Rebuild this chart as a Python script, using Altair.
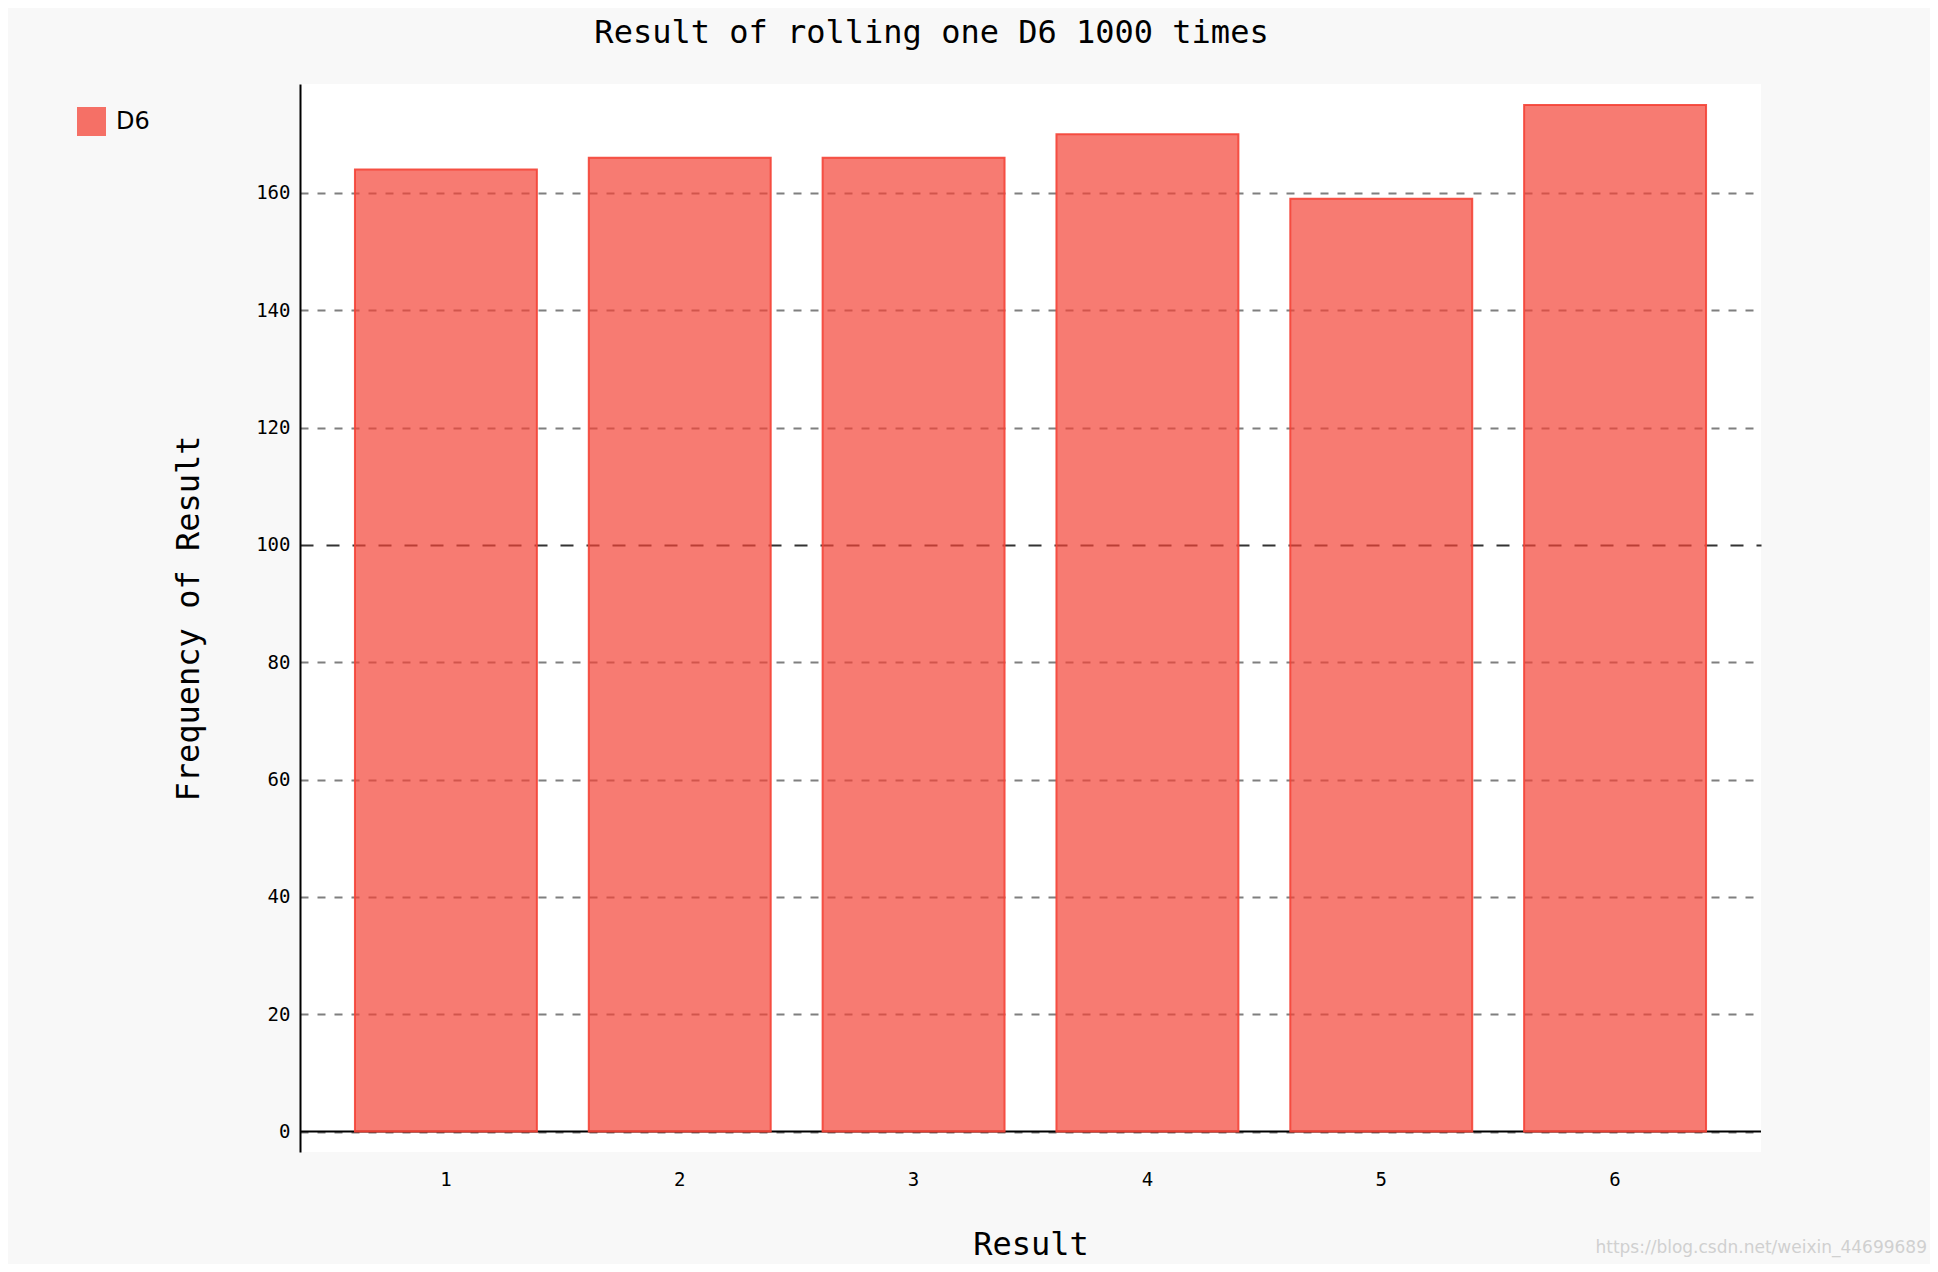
import altair as alt
import pandas as pd

# ---- data ----
results = ["1", "2", "3", "4", "5", "6"]
frequencies = [164, 166, 166, 170, 159, 175]
series_name = ["D6"] * 6
y_tick_values = [0, 20, 40, 60, 80, 100, 120, 140, 160]
zero_line = [0]

df = pd.DataFrame({"Result": results, "Frequency": frequencies, "series": series_name})
zero_df = pd.DataFrame({"y": zero_line})

FONT = "DejaVu Sans Mono"
W, H = 1461, 1068

grid_color = {"condition": {"test": "datum.value === 100", "value": "#333333"}, "value": "#7f7f7f"}
grid_dash = {"condition": {"test": "datum.value === 100", "value": [13, 13]}, "value": [8, 9]}

y_scale = alt.Scale(domain=[-3.48, 178.56], nice=False, zero=False)

bars = alt.Chart(df).mark_bar(
    fillOpacity=0.7, stroke="#F44336", strokeWidth=2, strokeOpacity=0.9
).encode(
    x=alt.X(
        "Result:N",
        sort=results,
        scale=alt.Scale(paddingInner=0.222, paddingOuter=0.235),
        axis=alt.Axis(
            title="Result", labelAngle=0, domain=False, ticks=False,
            labelFont=FONT, labelFontSize=19, labelColor="#000000", labelPadding=18,
            titleFont=FONT, titleFontSize=32, titleFontWeight="normal", titleColor="#000000",
            titleBaseline="alphabetic", titleY=102, titleX=W / 2, titleAlign="center",
        ),
    ),
    y=alt.Y(
        "Frequency:Q",
        scale=y_scale,
        axis=alt.Axis(
            title="Frequency of Result", values=y_tick_values, ticks=False,
            domain=True, domainColor="#000000", domainWidth=2,
            grid=True, gridColor=grid_color, gridDash=grid_dash, gridWidth=2,
            labelFont=FONT, labelFontSize=19, labelColor="#000000", labelPadding=10,
            titleFont=FONT, titleFontSize=32, titleFontWeight="normal", titleColor="#000000",
            titleAngle=270, titleBaseline="alphabetic", titleAlign="center",
            titleX=-102, titleY=H / 2,
        ),
    ),
    fill=alt.Fill(
        "series:N",
        scale=alt.Scale(domain=["D6"], range=["#F44336"]),
        legend=alt.Legend(
            title=None, orient="none", legendX=-223, legendY=23,
            symbolType="square", symbolSize=729, symbolStrokeColor="#F44336",
            symbolStrokeWidth=2, symbolOpacity=0.75,
            labelFont="DejaVu Sans", labelFontSize=24, labelColor="#000000", labelOffset=10,
        ),
    ),
)

zero = alt.Chart(zero_df).mark_rule(color="#000000", strokeWidth=2).encode(
    y=alt.Y("y:Q", scale=y_scale)
)

watermark = alt.Chart(pd.DataFrame({"t": ["https://blog.csdn.net/weixin_44699689"]})).mark_text(
    align="right", baseline="middle", font="DejaVu Sans", fontSize=17, color="#d0d0d0"
).encode(text="t:N", x=alt.value(W + 166), y=alt.value(H + 96))

chart = alt.layer(zero, bars, watermark).properties(
    width=W,
    height=H,
    title=alt.TitleParams(
        "Result of rolling one D6 1000 times",
        font=FONT, fontSize=32, fontWeight="normal", color="#000000",
        anchor="middle", frame="group", dx=-99, baseline="alphabetic", offset=9,
    ),
    padding={"left": 292, "top": 76, "right": 169, "bottom": 112},
    autosize=alt.AutoSizeParams(type="none"),
    background="#f8f8f8",
).configure_view(fill="#ffffff", stroke=None)

chart.save("out.html", embed_options={"renderer": "svg", "actions": False})
